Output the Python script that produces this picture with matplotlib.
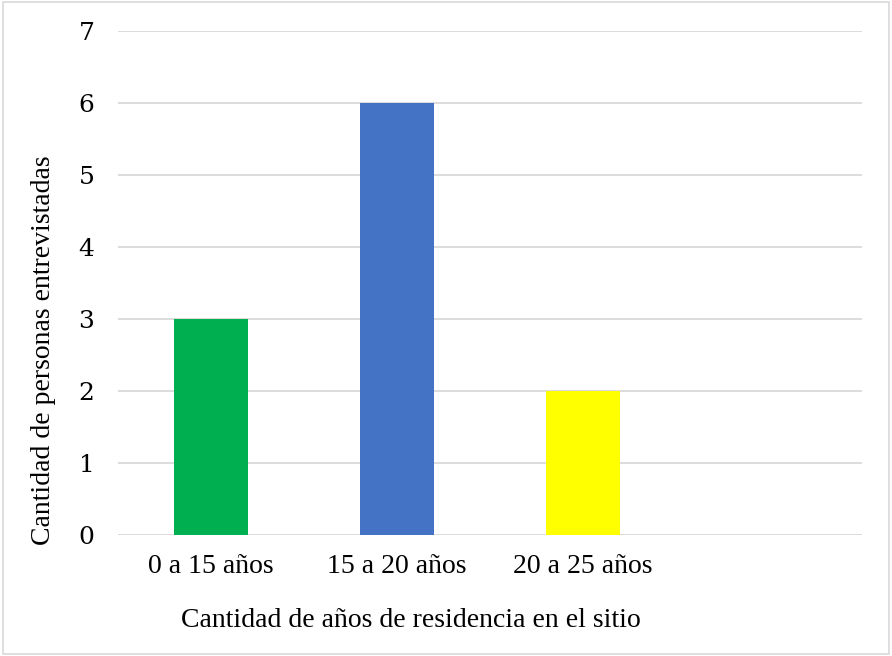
import matplotlib
matplotlib.use("Agg")
import matplotlib.pyplot as plt
from matplotlib.patches import Rectangle

# categories (the fourth slot is empty in the original chart)
categorias = ["0 a 15 años", "15 a 20 años", "20 a 25 años", ""]
personas = [3, 6, 2, 0]
colores = ["#00B050", "#4472C4", "#FFFF00", "#FFFFFF"]
yticks = [0, 1, 2, 3, 4, 5, 6, 7]

fig = plt.figure(figsize=(8.92, 6.56), dpi=100)
ax = fig.add_axes([0.1323, 0.1845, 0.8341, 0.7682])

x = list(range(len(categorias)))
ax.bar(x, personas, width=0.40, color=colores, zorder=3)

ax.set_xlim(-0.5, len(categorias) - 0.5)
ax.set_ylim(0, 7)
ax.set_yticks(yticks)
ax.set_yticklabels([str(v) for v in yticks], family="DejaVu Serif", fontsize=18)
ax.set_xticks(x[:3])
ax.set_xticklabels(categorias[:3], family="Liberation Serif", fontsize=20)
ax.tick_params(axis="both", length=0)
ax.tick_params(axis="y", pad=17)
ax.tick_params(axis="x", pad=14)

ax.grid(axis="y", color="#d9d9d9", linewidth=1.3, zorder=0)
for s in ax.spines.values():
    s.set_visible(False)

# titles are not centred on the plot area in the original
ax.set_xlabel("Cantidad de años de residencia en el sitio",
              family="Liberation Serif", fontsize=20)
ax.xaxis.set_label_coords(0.394, -0.145)
ax.set_ylabel("Cantidad de personas entrevistadas",
              family="Liberation Serif", fontsize=20)
ax.yaxis.set_label_coords(-0.083, 0.367)

fig.patches.append(Rectangle((0.003, 0.003), 0.994, 0.994, transform=fig.transFigure,
                             fill=False, edgecolor="#d9d9d9", linewidth=1.2))

fig.savefig("out.png", dpi=100)
